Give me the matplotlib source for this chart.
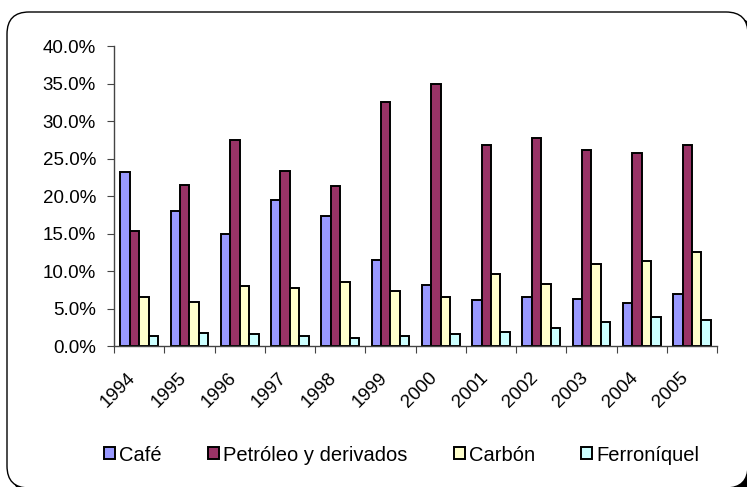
import matplotlib
matplotlib.use("Agg")
import matplotlib.pyplot as plt
import matplotlib.transforms as mtransforms
import numpy as np
from matplotlib.patches import FancyBboxPatch
from matplotlib.ticker import FuncFormatter

# Datos (participación en las exportaciones, %)
years = ['1994', '1995', '1996', '1997', '1998', '1999',
         '2000', '2001', '2002', '2003', '2004', '2005']
cafe = [23.2, 18.0, 14.9, 19.5, 17.3, 11.5, 8.2, 6.2, 6.6, 6.3, 5.8, 7.0]
petroleo = [15.3, 21.5, 27.5, 23.4, 21.3, 32.5, 34.9, 26.8, 27.7, 26.2, 25.7, 26.8]
carbon = [6.5, 5.85, 8.0, 7.7, 8.5, 7.3, 6.5, 9.6, 8.3, 11.0, 11.3, 12.5]
ferroniquel = [1.4, 1.8, 1.6, 1.4, 1.05, 1.3, 1.55, 1.9, 2.35, 3.2, 3.9, 3.5]

series = [('Café', cafe, '#9999FF'),
          ('Petróleo y derivados', petroleo, '#993366'),
          ('Carbón', carbon, '#FFFFCC'),
          ('Ferroníquel', ferroniquel, '#CCFFFF')]

plt.rcParams['font.family'] = ['Liberation Sans', 'DejaVu Sans']
fs = 13.5

fig = plt.figure(figsize=(7.47, 4.87), dpi=100)
ax = fig.add_axes([0.1526, 0.2895, 0.8074, 0.616])
ax.patch.set_alpha(0)
ax.set_zorder(5)

# Borde redondeado con sombra (en pulgadas, se sale un poco de la imagen)
sombra = FancyBboxPatch((0.12, -0.06), 7.41, 4.76,
                        boxstyle="round,pad=0,rounding_size=0.22",
                        transform=fig.dpi_scale_trans, facecolor='black',
                        edgecolor='black', linewidth=1.0, zorder=0)
borde = FancyBboxPatch((0.07, -0.01), 7.41, 4.76,
                       boxstyle="round,pad=0,rounding_size=0.22",
                       transform=fig.dpi_scale_trans, facecolor='white',
                       edgecolor='black', linewidth=1.0, zorder=1)
fig.patches.append(sombra)
fig.patches.append(borde)

x = np.arange(len(years))
w = 0.1876
for i, (nombre, vals, color) in enumerate(series):
    offset = (i - 1.5) * w
    ax.bar(x + offset, vals, width=w, color=color, edgecolor='black',
           linewidth=1.4, label=nombre)

ax.set_xlim(-0.5, len(years) - 0.5)
ax.set_ylim(0, 40)
ax.set_yticks(np.arange(0, 40.1, 5))
ax.yaxis.set_major_formatter(FuncFormatter(lambda v, p: '%.1f%%' % v))

# ticks en los bordes de cada categoría
ax.set_xticks(np.arange(-0.5, len(years), 1))
ax.set_xticklabels([])
ax.set_xticks(x, minor=True)
ax.set_xticklabels(years, minor=True, rotation=45, ha='right',
                   va='center', rotation_mode='anchor', fontsize=fs)
ax.tick_params(axis='x', which='minor', length=0, pad=21)
ax.tick_params(axis='x', which='major', length=5, direction='out', color='#444444')
ax.tick_params(axis='y', length=5, direction='out', color='#444444',
               labelsize=fs, pad=8)

# desplazar un poco las etiquetas de los años hacia la izquierda
desplaza = mtransforms.ScaledTranslation(-0.06, 0, fig.dpi_scale_trans)
for lab in ax.get_xticklabels(minor=True):
    lab.set_transform(lab.get_transform() + desplaza)

for s in ['top', 'right']:
    ax.spines[s].set_visible(False)
for s in ['left', 'bottom']:
    ax.spines[s].set_color('#444444')
    ax.spines[s].set_linewidth(1.0)

leg = fig.legend(loc='center', bbox_to_anchor=(0.5375, 0.0657), ncol=4,
                 frameon=False, fontsize=14.5, handlelength=0.55,
                 handleheight=0.55, handletextpad=0.2, columnspacing=2.3)
leg.set_zorder(5)

fig.savefig('out.png', dpi=100)
